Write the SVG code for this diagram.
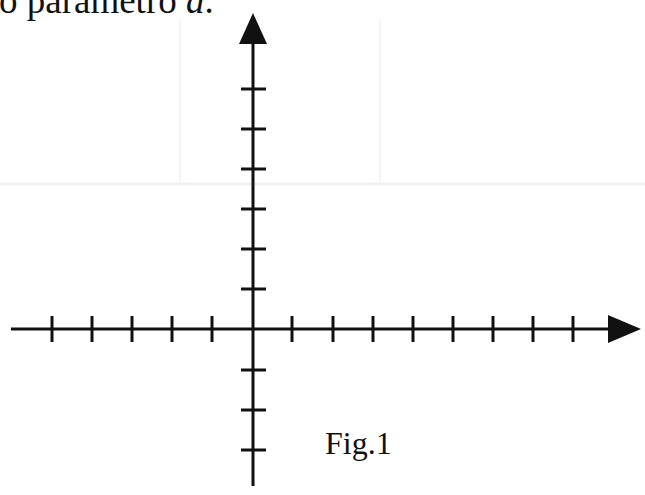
<svg xmlns="http://www.w3.org/2000/svg" width="645" height="495" viewBox="0 0 645 495">
  <style>
    .axis { stroke: #111; stroke-width: 3; fill: none; }
    .tick { stroke: #111; stroke-width: 3; }
    .head { fill: #111; }
    .serif { font-family: "Liberation Serif", "Times New Roman", serif; fill: #111; }
    .bleed { stroke: #f3f0f0; fill: none; }
  </style>
  <rect width="645" height="495" fill="#ffffff"/>
  <g id="page-background">
    <line class="bleed" x1="180" y1="20" x2="180" y2="185" stroke-width="1.5"/>
    <line class="bleed" x1="380" y1="20" x2="380" y2="185" stroke-width="1.5"/>
    <line class="bleed" x1="0" y1="184" x2="645" y2="184" stroke-width="3"/>
  </g>
  <text id="caption-top" class="serif" x="-1" y="13" font-size="37">o parâmetro <tspan font-style="italic">a</tspan>.</text>
  <g id="connectors">
    <line id="y-axis" class="axis" x1="253" y1="40" x2="253" y2="486"/>
    <polygon class="head" points="253,13 239,44 267,44"/>
    <line id="x-axis" class="axis" x1="11" y1="329" x2="612" y2="329"/>
    <polygon class="head" points="641,329 608,315 608,343"/>
  </g>
  <g id="y-ticks" class="tick">
    <line x1="241" y1="89" x2="266" y2="89"/>
    <line x1="241" y1="129" x2="266" y2="129"/>
    <line x1="241" y1="169" x2="266" y2="169"/>
    <line x1="241" y1="209" x2="266" y2="209"/>
    <line x1="241" y1="249" x2="266" y2="249"/>
    <line x1="241" y1="289" x2="266" y2="289"/>
    <line x1="241" y1="370" x2="266" y2="370"/>
    <line x1="241" y1="410" x2="266" y2="410"/>
    <line x1="241" y1="450" x2="266" y2="450"/>
  </g>
  <g id="x-ticks" class="tick">
    <line x1="52" y1="316" x2="52" y2="342"/>
    <line x1="92" y1="316" x2="92" y2="342"/>
    <line x1="132" y1="316" x2="132" y2="342"/>
    <line x1="172" y1="316" x2="172" y2="342"/>
    <line x1="212" y1="316" x2="212" y2="342"/>
    <line x1="292" y1="316" x2="292" y2="342"/>
    <line x1="333" y1="316" x2="333" y2="342"/>
    <line x1="373" y1="316" x2="373" y2="342"/>
    <line x1="413" y1="316" x2="413" y2="342"/>
    <line x1="453" y1="316" x2="453" y2="342"/>
    <line x1="493" y1="316" x2="493" y2="342"/>
    <line x1="533" y1="316" x2="533" y2="342"/>
    <line x1="573" y1="316" x2="573" y2="342"/>
  </g>
  <text id="fig-label" class="serif" x="325" y="454" font-size="32">Fig.1</text>
</svg>
